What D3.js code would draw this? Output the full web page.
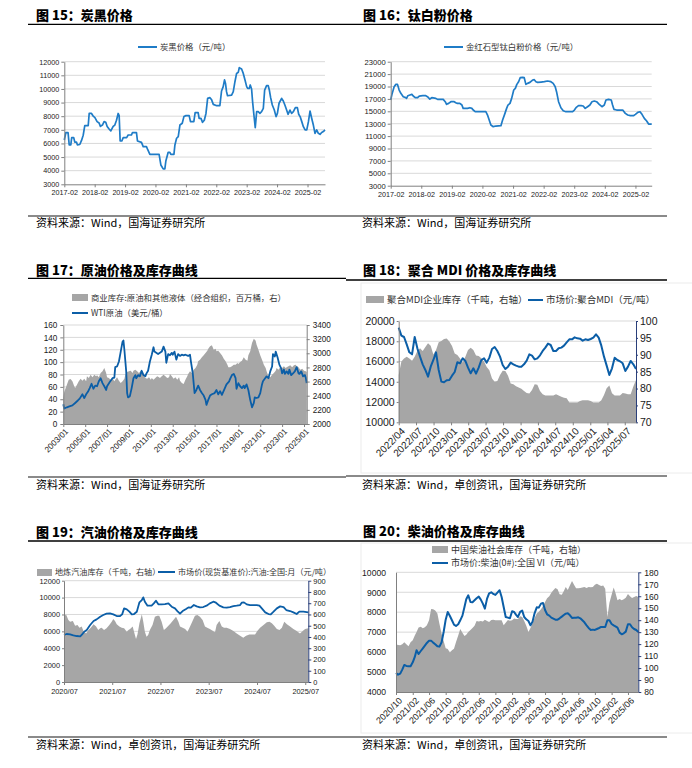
<!DOCTYPE html>
<html><head><meta charset="utf-8">
<script src="https://cdn.jsdelivr.net/npm/d3@7"></script>
<style>body{margin:0;background:#fff;}svg{display:block;}</style>
</head><body>
<script>
// ---------- Figure 15: carbon black price ----------
const carbonDates=["2017-02-01","2017-02-20","2017-03-18","2017-04-01","2017-04-20","2017-05-01","2017-05-25","2017-06-07","2017-06-27","2017-07-08","2017-08-06","2017-08-26","2017-09-16","2017-10-05","2017-11-15","2017-11-27","2017-12-25","2018-01-15","2018-02-04","2018-03-02","2018-03-26","2018-04-11","2018-05-05","2018-05-25","2018-06-14","2018-07-01","2018-07-24","2018-08-14","2018-09-11","2018-10-01","2018-10-21","2018-11-10","2018-11-22","2018-12-04","2018-12-24","2019-01-10","2019-02-20","2019-03-10","2019-04-19","2019-05-01","2019-06-18","2019-06-30","2019-08-17","2019-09-07","2019-10-16","2019-11-02","2019-11-26","2020-03-16","2020-04-06","2020-05-04","2020-05-24","2020-06-05","2020-07-03","2020-07-23","2020-08-04","2020-09-10","2020-09-22","2020-10-12","2020-11-01","2020-11-21","2020-12-19","2021-01-08","2021-02-02","2021-03-12","2021-03-28","2021-05-07","2021-05-23","2021-06-28","2021-07-10","2021-08-01","2021-08-20","2021-09-10","2021-09-30","2021-10-20","2021-11-17","2021-12-07","2021-12-27","2022-02-06","2022-03-16","2022-04-05","2022-04-25","2022-05-11","2022-05-23","2022-06-04","2022-06-16","2022-08-04","2022-08-24","2022-09-13","2022-10-03","2022-10-23","2022-11-04","2022-12-02","2022-12-22","2023-01-12","2023-02-01","2023-02-13","2023-03-04","2023-03-16","2023-04-01","2023-04-13","2023-04-29","2023-05-15","2023-06-01","2023-06-20","2023-07-10","2023-07-30","2023-08-20","2023-09-05","2023-09-28","2023-10-18","2023-11-01","2023-11-16","2023-12-06","2023-12-30","2024-01-20","2024-02-05","2024-02-25","2024-03-27","2024-04-16","2024-05-06","2024-05-26","2024-06-12","2024-07-05","2024-07-25","2024-08-15","2024-09-08","2024-10-02","2024-10-18","2024-11-04","2024-11-24","2024-12-13","2025-01-03","2025-01-23","2025-02-12","2025-03-03","2025-03-23","2025-04-12","2025-05-02","2025-05-22","2025-06-11","2025-07-01","2025-07-21","2025-08-10","2025-08-30"];
const carbonPrice=[6250,6800,6800,5900,5900,6430,6430,6100,6100,5900,5920,6200,6600,7300,7300,8200,8200,8000,7900,7600,7500,7250,7350,7600,7550,7250,7060,6920,7250,7350,7700,8200,8050,6180,6180,6430,6430,6620,6620,6800,6800,6180,6080,5770,5770,5520,5200,5200,4420,4130,4130,4710,5350,5350,5200,5200,5890,6380,6500,7350,7480,7970,8040,8040,7600,7600,8260,8260,7840,7840,7550,7700,8200,9310,9360,9200,8870,8770,8770,9850,10170,10660,10400,9800,9500,9550,9800,10530,11140,11220,11560,11460,11140,10650,10170,10040,10040,10290,10000,9070,8090,7160,8330,8330,8210,8330,8580,9920,10240,10240,9900,9360,8820,8450,7970,8210,8950,9310,9120,8800,8450,8140,8450,8210,8330,8630,8630,8140,7970,7600,7230,6990,6990,7600,8380,7850,7350,6740,6990,6740,6670,6800,6870,6990];
const p15YTicks=[3000,4000,5000,6000,7000,8000,9000,10000,11000,12000];
const p15XTicks=["2017-02-01","2018-02-01","2019-02-01","2020-02-01","2021-02-01","2022-02-01","2023-02-01","2024-02-01","2025-02-01"];
const p15XLabels=["2017-02","2018-02","2019-02","2020-02","2021-02","2022-02","2023-02","2024-02","2025-02"];

// ---------- Figure 16: TiO2 price ----------
const tio2Dates=["2017-02-01","2017-02-16","2017-03-14","2017-04-04","2017-04-23","2017-05-13","2017-06-02","2017-07-01","2017-07-24","2017-08-09","2017-08-25","2017-09-18","2017-10-12","2017-10-28","2017-11-21","2017-12-19","2018-01-08","2018-02-18","2018-03-27","2018-04-16","2018-05-14","2018-06-07","2018-07-25","2018-08-14","2018-09-23","2018-10-21","2018-11-14","2018-11-30","2018-12-24","2019-01-21","2019-03-01","2019-03-20","2019-04-09","2019-05-07","2019-06-01","2019-06-16","2019-07-10","2019-08-07","2019-09-04","2019-09-28","2019-10-14","2019-11-07","2019-12-05","2020-02-04","2020-03-13","2020-04-02","2020-04-22","2020-05-12","2020-06-09","2020-07-10","2020-09-09","2020-09-29","2020-10-23","2020-11-16","2020-12-02","2020-12-26","2021-01-15","2021-02-09","2021-02-28","2021-03-18","2021-04-08","2021-04-27","2021-05-25","2021-06-14","2021-07-04","2021-07-24","2021-08-21","2021-09-22","2021-10-12","2021-11-01","2021-11-21","2022-01-01","2022-02-10","2022-03-19","2022-04-28","2022-05-26","2022-06-19","2022-07-05","2022-07-29","2022-08-26","2022-09-23","2022-10-25","2022-12-04","2023-01-13","2023-02-03","2023-02-22","2023-03-24","2023-04-25","2023-05-19","2023-06-12","2023-07-10","2023-08-07","2023-09-01","2023-09-29","2023-10-26","2023-11-27","2023-12-29","2024-01-26","2024-02-15","2024-03-17","2024-04-18","2024-05-04","2024-05-20","2024-06-21","2024-07-23","2024-09-02","2024-10-03","2024-11-01","2024-12-02","2025-01-08","2025-02-01","2025-03-01","2025-03-27","2025-04-20","2025-05-18","2025-06-15","2025-07-08","2025-08-14"];
const tio2Price=[16818,17732,18968,19344,19344,18430,17893,17355,17248,17086,17516,17624,17732,17463,17194,17194,17463,17516,17516,17355,16979,17194,17086,16925,16925,16925,16549,16119,16280,16549,16549,16388,16280,16280,16011,15474,15474,15474,15581,15474,15205,14936,14936,14936,14936,14398,13592,12786,12517,12624,12678,13592,14506,15474,16011,16280,17086,18430,18699,19344,19774,20420,20473,20420,19344,19506,19667,20043,20097,19774,19667,19721,19774,19882,19774,19506,18968,18162,16549,15581,15097,14936,14936,14936,15205,15581,15904,15904,15850,15474,15742,16011,16549,16656,16549,16119,15742,16011,16818,16925,16818,16011,15312,15205,15205,15205,14667,14398,14291,14291,14506,14829,14936,14506,13861,13431,12947,12947];
const p16YTicks=[3000,5000,7000,9000,11000,13000,15000,17000,19000,21000,23000];
const p16XTicks=p15XTicks, p16XLabels=p15XLabels;

// ---------- Figure 17: crude oil ----------
const oilStockDates=["2003-01","2003-02","2003-05","2003-07","2003-09","2003-11","2004-01","2004-02","2004-04","2004-06","2004-08","2004-10","2004-12","2005-02","2005-03","2005-05","2005-07","2005-09","2005-11","2006-01","2006-02","2006-04","2006-06","2006-08","2006-10","2006-12","2007-01","2007-03","2007-05","2007-07","2007-09","2007-10","2007-12","2008-02","2008-04","2008-06","2008-08","2008-09","2008-11","2009-01","2009-03","2009-05","2009-06","2009-08","2009-10","2009-12","2010-02","2010-03","2010-05","2010-07","2010-09","2010-11","2011-01","2011-02","2011-04","2011-06","2011-08","2011-10","2011-11","2012-01","2012-03","2012-05","2012-07","2012-09","2012-10","2012-12","2013-02","2013-04","2013-06","2013-08","2013-09","2013-11","2014-01","2014-03","2014-05","2014-06","2014-08","2014-10","2014-12","2015-02","2015-04","2015-05","2015-07","2015-09","2015-11","2016-01","2016-03","2016-04","2016-06","2016-08","2016-10","2016-12","2017-01","2017-03","2017-05","2017-07","2017-09","2017-11","2018-01","2018-02","2018-04","2018-06","2018-08","2018-10","2018-12","2019-01","2019-03","2019-05","2019-07","2019-09","2019-11","2019-12","2020-02","2020-04","2020-06","2020-08","2020-09","2020-11","2021-01","2021-03","2021-05","2021-07","2021-08","2021-10","2021-12","2022-02","2022-04","2022-06","2022-07","2022-09","2022-11","2023-01","2023-03","2023-05","2023-06","2023-08","2023-10","2023-12","2024-02","2024-04","2024-05","2024-07","2024-09","2024-11","2025-01","2025-03","2025-04"];
const oilStock=[2368,2453,2556,2627,2636,2603,2533,2509,2556,2603,2641,2613,2641,2603,2674,2651,2698,2660,2698,2674,2688,2660,2721,2745,2792,2721,2660,2651,2627,2651,2603,2627,2660,2613,2580,2603,2641,2698,2735,2745,2754,2721,2754,2768,2745,2721,2754,2768,2698,2651,2641,2660,2627,2651,2627,2651,2674,2660,2651,2674,2698,2674,2651,2660,2707,2674,2641,2660,2627,2660,2613,2580,2566,2627,2674,2707,2745,2721,2768,2792,2839,2886,2910,2943,2971,3004,3037,3065,3098,3113,3051,3065,3028,3037,3004,2971,2924,2886,2839,2801,2801,2816,2839,2839,2863,2849,2877,2896,2943,2910,2896,2971,3028,3146,3207,3179,3122,3051,2971,2910,2839,2792,2745,2674,2660,2698,2721,2754,2792,2768,2801,2792,2816,2792,2801,2816,2830,2801,2830,2839,2816,2801,2768,2782,2754,2745,2735];
const wtiDates=["2003-01","2003-02","2003-05","2003-07","2003-11","2004-02","2004-05","2004-07","2004-10","2004-12","2005-02","2005-04","2005-06","2005-08","2005-10","2005-12","2006-02","2006-04","2006-06","2006-08","2006-10","2006-12","2007-01","2007-04","2007-07","2007-09","2007-10","2007-12","2008-02","2008-04","2008-06","2008-07","2008-08","2008-10","2008-11","2008-12","2009-02","2009-04","2009-06","2009-08","2009-09","2009-11","2010-01","2010-03","2010-05","2010-07","2010-08","2010-10","2010-12","2011-02","2011-04","2011-05","2011-07","2011-09","2011-11","2012-01","2012-03","2012-05","2012-06","2012-08","2012-10","2012-12","2013-01","2013-03","2013-05","2013-07","2013-09","2013-11","2014-01","2014-03","2014-06","2014-08","2014-09","2014-11","2014-12","2015-01","2015-03","2015-05","2015-07","2015-09","2015-11","2016-01","2016-02","2016-04","2016-06","2016-08","2016-11","2017-01","2017-03","2017-05","2017-07","2017-10","2017-12","2018-03","2018-04","2018-06","2018-08","2018-10","2018-11","2019-01","2019-03","2019-05","2019-07","2019-08","2019-10","2019-12","2020-02","2020-04","2020-06","2020-07","2020-09","2020-11","2021-01","2021-03","2021-04","2021-06","2021-08","2021-10","2021-12","2022-02","2022-03","2022-05","2022-06","2022-08","2022-10","2022-12","2023-01","2023-03","2023-04","2023-06","2023-08","2023-09","2023-11","2024-01","2024-03","2024-05","2024-07","2024-08","2024-10","2024-12","2025-02","2025-03","2025-04"];
const wtiPrice=[32,25,27,28,30,34,38,41,48,42,48,52,58,65,57,62,61,69,74,66,61,55,61,68,74,75,92,93,101,117,133,135,120,85,50,43,45,58,74,79,74,79,77,86,79,77,81,86,101,112,124,117,115,113,115,117,125,117,99,113,111,115,112,117,104,113,110,112,111,112,110,112,101,82,66,50,55,62,55,50,46,39,31,39,46,48,50,55,48,53,47,57,64,69,73,79,81,74,57,66,61,58,62,58,64,55,39,27,34,43,42,43,50,64,69,73,77,74,85,93,113,109,117,108,96,90,82,88,81,85,81,88,79,82,85,92,82,81,85,77,79,75,66];
const p17YTicksL=[0,20,40,60,80,100,120,140,160];
const p17YTicksR=[2000,2200,2400,2600,2800,3000,3200,3400];
const p17XTicks=["2003-01","2005-01","2007-01","2009-01","2011-01","2013-01","2015-01","2017-01","2019-01","2021-01","2023-01","2025-01"];
const p17XLabels=["2003/01","2005/01","2007/01","2009/01","2011/01","2013/01","2015/01","2017/01","2019/01","2021/01","2023/01","2025/01"];

// ---------- Figure 18: polymeric MDI ----------
const mdiDates=["2022-04-01","2022-04-15","2022-04-29","2022-05-13","2022-05-27","2022-06-10","2022-06-24","2022-07-08","2022-07-22","2022-08-05","2022-08-19","2022-09-02","2022-09-16","2022-09-30","2022-10-14","2022-10-28","2022-11-11","2022-11-25","2022-12-09","2022-12-23","2023-01-06","2023-01-20","2023-02-03","2023-02-17","2023-03-03","2023-03-17","2023-03-31","2023-04-14","2023-04-28","2023-05-12","2023-05-26","2023-06-09","2023-06-23","2023-07-07","2023-07-21","2023-08-04","2023-08-18","2023-09-01","2023-09-15","2023-09-29","2023-10-13","2023-10-27","2023-11-10","2023-11-24","2023-12-08","2023-12-22","2024-01-05","2024-01-19","2024-02-02","2024-02-16","2024-03-01","2024-03-15","2024-03-29","2024-04-12","2024-04-26","2024-05-10","2024-05-24","2024-06-07","2024-06-21","2024-07-05","2024-07-19","2024-08-02","2024-08-16","2024-08-30","2024-09-13","2024-09-27","2024-10-11","2024-10-25","2024-11-08","2024-11-22","2024-12-06","2024-12-20","2025-01-03","2025-01-17","2025-01-31","2025-02-14","2025-02-28","2025-03-14","2025-03-28","2025-04-11","2025-04-25","2025-05-09","2025-05-23","2025-06-06","2025-06-20","2025-07-04","2025-07-18","2025-08-01","2025-08-15","2025-08-29"];
const mdiPrice=[19342,18553,18420,17697,16908,16711,18420,17303,16480,15724,15165,14507,15494,16151,16908,15165,14013,13947,14145,14178,14605,14967,15922,15823,16316,16053,15395,14836,15329,14803,15395,16151,16316,15889,16382,17237,17434,17040,16480,15658,15263,15494,15889,15724,15592,15494,15494,15724,16086,16711,16579,16217,16316,16612,17040,17369,17764,17632,17040,17040,17303,17369,17566,17895,18191,18191,18388,18290,18257,18059,18191,18125,18224,18355,18684,18355,17566,16480,15592,14671,15329,16382,16151,16020,15823,15066,15494,16053,15724,15263];
const mdiStock=[84.0,88.0,88.9,89.4,88.9,88.2,89.4,91.1,91.9,91.1,92.3,93.4,92.7,90.1,91.4,93.7,94.1,94.7,94.8,93.9,92.6,90.4,89.9,88.9,87.7,89.4,91.4,92.1,91.4,89.8,89.6,89.0,88.0,86.4,85.4,83.0,82.0,82.2,84.0,85.3,85.2,83.8,81.5,81.3,80.7,80.3,79.9,79.3,78.7,78.5,79.6,81.3,81.1,79.3,78.3,77.9,77.9,77.9,77.9,78.3,77.9,77.6,77.3,77.1,75.9,75.9,75.9,75.9,76.3,76.5,76.5,76.5,76.3,75.9,75.9,75.9,76.5,78.1,80.1,80.9,78.6,77.9,77.9,77.9,78.7,78.5,78.3,78.3,80.6,82.5];
const p18YTicksL=[10000,12000,14000,16000,18000,20000];
const p18YTicksR=[70,75,80,85,90,95,100];
const p18XTicks=["2022-04-01","2022-07-01","2022-10-01","2023-01-01","2023-04-01","2023-07-01","2023-10-01","2024-01-01","2024-04-01","2024-07-01","2024-10-01","2025-01-01","2025-04-01","2025-07-01"];
const p18XLabels=["2022/04","2022/07","2022/10","2023/01","2023/04","2023/07","2023/10","2024/01","2024/04","2024/07","2024/10","2025/01","2025/04","2025/07"];

// ---------- Figure 19: gasoline ----------
const gasPriceDates=["2020-07-01","2020-07-21","2020-08-16","2020-09-10","2020-10-05","2020-11-01","2020-11-15","2020-12-01","2020-12-20","2021-01-15","2021-02-10","2021-03-05","2021-04-01","2021-04-24","2021-05-19","2021-06-14","2021-07-09","2021-08-04","2021-08-29","2021-09-14","2021-09-29","2021-10-19","2021-11-08","2021-11-26","2021-12-13","2022-01-03","2022-01-23","2022-02-10","2022-02-21","2022-03-05","2022-03-25","2022-04-25","2022-05-12","2022-05-28","2022-06-15","2022-07-10","2022-08-04","2022-08-30","2022-09-24","2022-10-19","2022-11-06","2022-11-26","2022-12-16","2023-01-11","2023-01-29","2023-02-16","2023-03-11","2023-04-01","2023-04-26","2023-05-21","2023-06-15","2023-07-10","2023-08-05","2023-08-25","2023-09-20","2023-10-20","2023-11-14","2023-12-09","2024-01-04","2024-01-29","2024-02-24","2024-03-07","2024-03-24","2024-04-14","2024-05-09","2024-06-04","2024-06-29","2024-07-19","2024-08-06","2024-09-01","2024-09-26","2024-10-13","2024-11-03","2024-11-28","2024-12-23","2025-01-18","2025-02-07","2025-03-08","2025-04-02","2025-04-27","2025-05-17","2025-06-17","2025-07-24"];
const gasPrice=[5565,5684,5644,5526,5447,5407,5644,5960,6157,6749,7223,7420,7736,7933,8091,8131,8012,7815,7815,8012,8723,8604,8328,8012,8052,8328,9433,9710,10025,9512,9039,9039,9315,9631,9197,9197,9236,9315,8920,8723,8407,8091,8407,8644,8841,8802,9118,8960,8841,8881,9039,9315,9512,9394,9039,8841,8802,8881,8999,9039,9118,9394,9433,9197,9118,9118,9118,9039,8723,8249,8052,8012,8328,8723,8960,8881,8526,8407,8249,8052,8328,8328,8249];
const gasStockDates=["2020-07-01","2020-07-16","2020-08-03","2020-08-16","2020-09-06","2020-09-23","2020-10-11","2020-10-26","2020-11-12","2020-11-25","2020-12-15","2021-01-02","2021-01-20","2021-02-10","2021-03-01","2021-03-17","2021-04-01","2021-04-12","2021-04-30","2021-05-19","2021-06-09","2021-06-27","2021-07-09","2021-07-22","2021-08-04","2021-08-24","2021-09-11","2021-09-29","2021-10-19","2021-11-01","2021-11-13","2021-12-03","2021-12-13","2021-12-28","2022-01-08","2022-01-23","2022-02-10","2022-02-21","2022-03-05","2022-03-18","2022-03-30","2022-04-12","2022-05-02","2022-05-20","2022-06-07","2022-06-22","2022-07-10","2022-07-27","2022-08-12","2022-08-30","2022-09-17","2022-10-07","2022-10-27","2022-11-14","2022-11-26","2022-12-16","2023-01-04","2023-01-22","2023-02-10","2023-03-01","2023-03-19","2023-04-06","2023-04-26","2023-05-16","2023-06-03","2023-06-20","2023-07-10","2023-07-31","2023-08-18","2023-08-30","2023-09-20","2023-10-08","2023-10-25","2023-11-14","2023-12-09","2024-01-04","2024-01-29","2024-02-24","2024-03-19","2024-04-09","2024-05-04","2024-05-29","2024-06-16","2024-07-03","2024-07-24","2024-08-19","2024-09-13","2024-10-03","2024-10-21","2024-11-08","2024-11-28","2024-12-18","2025-01-05","2025-01-23","2025-02-12","2025-03-08","2025-04-02","2025-04-27","2025-05-22","2025-06-12","2025-06-30","2025-07-24"];
const gasStock=[580,601,551,536,542,500,506,483,492,453,432,462,483,512,492,462,477,483,462,477,506,536,560,542,512,492,483,477,447,462,471,492,447,382,423,521,601,536,447,403,418,462,506,580,589,589,536,462,477,500,521,551,580,536,492,483,471,447,492,542,589,595,580,551,492,483,471,456,441,506,542,492,483,483,471,453,432,412,394,412,423,423,423,453,483,506,530,536,521,500,471,462,483,536,512,492,471,453,432,453,471,477];
const p19YTicksL=[0,2000,4000,6000,8000,10000,12000];
const p19YTicksR=[0,100,200,300,400,500,600,700,800,900];
const p19XTicks=["2020-07-01","2021-07-01","2022-07-01","2023-07-01","2024-07-01","2025-07-01"];
const p19XLabels=["2020/07","2021/07","2022/07","2023/07","2024/07","2025/07"];

// ---------- Figure 20: diesel ----------
const dieselDates=["2020-10-01","2020-10-16","2020-11-01","2020-11-16","2020-12-01","2020-12-16",
"2021-01-01","2021-01-16","2021-02-01","2021-02-16","2021-03-01","2021-03-16","2021-04-01","2021-04-16","2021-05-01","2021-05-16","2021-06-01","2021-06-16","2021-07-01","2021-07-16","2021-08-01","2021-08-16","2021-09-01","2021-09-16","2021-10-01","2021-10-16","2021-11-01","2021-11-16","2021-12-01","2021-12-16",
"2022-01-01","2022-01-16","2022-02-01","2022-02-16","2022-03-01","2022-03-16","2022-04-01","2022-04-16","2022-05-01","2022-05-16","2022-06-01","2022-06-16","2022-07-01","2022-07-16","2022-08-01","2022-08-16","2022-09-01","2022-09-16","2022-10-01","2022-10-16","2022-11-01","2022-11-16","2022-12-01","2022-12-16",
"2023-01-01","2023-01-16","2023-02-01","2023-02-16","2023-03-01","2023-03-16","2023-04-01","2023-04-16","2023-05-01","2023-05-16","2023-06-01","2023-06-16","2023-07-01","2023-07-16","2023-08-01","2023-08-16","2023-09-01","2023-09-16","2023-10-01","2023-10-16","2023-11-01","2023-11-16","2023-12-01","2023-12-16",
"2024-01-01","2024-01-16","2024-02-01","2024-02-16","2024-03-01","2024-03-16","2024-04-01","2024-04-16","2024-05-01","2024-05-16","2024-06-01","2024-06-16","2024-07-01","2024-07-16","2024-08-01","2024-08-16","2024-09-01","2024-09-16","2024-10-01","2024-10-16","2024-11-01","2024-11-16","2024-12-01","2024-12-16",
"2025-01-01","2025-01-16","2025-02-01","2025-02-16","2025-03-01","2025-03-16","2025-04-01","2025-04-16","2025-05-01","2025-05-16","2025-06-01","2025-06-16","2025-07-01","2025-07-16","2025-08-01","2025-08-16"];
const dieselPrice=[4954,4870,4920,5121,5355,5305,5288,5288,5488,5756,6090,5906,6056,6190,6324,6457,6574,6574,6474,6391,6290,6274,6491,7009,7627,8012,7811,7594,7377,7310,7393,7594,7828,8262,8646,8847,8513,8496,8596,8697,8780,8630,8429,8179,8680,8947,8997,8914,8864,8981,9098,8763,8262,7761,7727,7694,8045,8012,7878,7761,8012,8078,7761,7644,7560,7343,7527,7945,8245,8229,8429,8463,8112,7895,7828,7727,7677,7627,7627,7694,7778,7861,7928,7945,7844,7711,7727,7727,7744,7694,7594,7494,7343,7209,7109,7126,7109,7159,7209,7260,7260,7260,7594,7594,7410,7343,7293,7226,6975,6892,6942,7026,7393,7393,7243,7159,7109,7009];
const dieselStock=[119.8,119.3,119.0,119.8,121.5,119.8,118.2,121.5,123.2,127.3,130.1,133.8,134.6,133.2,134.0,135.7,139.9,149.4,149.1,148.0,145.5,137.1,128.7,122.6,116.5,115.9,113.1,114.8,116.2,121.8,127.3,132.6,129.6,126.8,127.9,130.1,131.8,133.5,135.4,139.3,138.8,139.3,139.0,140.4,139.3,138.5,140.2,140.4,139.9,139.9,139.9,139.9,135.7,137.9,140.2,139.6,139.9,141.3,141.0,141.0,143.2,142.7,139.3,135.4,130.1,133.5,137.7,141.8,145.5,147.1,149.1,151.9,155.2,158.3,159.9,163.0,165.0,166.9,165.8,161.6,161.3,164.4,167.7,165.2,169.1,172.8,169.7,166.6,166.6,166.9,167.2,167.7,166.9,167.7,167.5,167.7,169.7,170.5,169.4,168.6,168.9,166.3,142.7,154.6,161.3,167.2,163.0,156.6,157.7,156.6,157.4,158.8,161.9,159.9,158.5,159.4,160.2,159.4];
const p20YTicksL=[4000,5000,6000,7000,8000,9000,10000];
const p20YTicksR=[80,90,100,110,120,130,140,150,160,170,180];
const p20XTicks=["2020-10-01","2021-02-01","2021-06-01","2021-10-01","2022-02-01","2022-06-01","2022-10-01","2023-02-01","2023-06-01","2023-10-01","2024-02-01","2024-06-01","2024-10-01","2025-02-01","2025-06-01"];
const p20XLabels=["2020/10","2021/02","2021/06","2021/10","2022/02","2022/06","2022/10","2023/02","2023/06","2023/10","2024/02","2024/06","2024/10","2025/02","2025/06"];

// ---------- rendering ----------
const CJK='"Noto Sans CJK SC","Noto Sans",sans-serif';
const NUM='"Liberation Sans",Arial,sans-serif';
const BLUE1="#1f7cc7", BLUE2="#0b5ea7", GREY="#a6a6a6", GRID="#d9d9d9", AX="#808080", NAVY="#2a3f7a";
const pD=d3.timeParse("%Y-%m-%d"), pM=d3.timeParse("%Y-%m");
const fmt=d3.format("d");
const svg=d3.select("body").append("svg").attr("width",692).attr("height",768);

function header(x1,x2,tx,ty,uy,title){
  svg.append("text").attr("x",tx).attr("y",ty).attr("font-family",CJK).attr("font-weight",900)
    .attr("font-size",13).attr("fill","#000").text(title);
  svg.append("line").attr("x1",x1).attr("x2",x2).attr("y1",uy).attr("y2",uy)
    .attr("stroke","#000").attr("stroke-width",1.3);
}
function source(x1,x2,ly,tx,ty,txt){
  svg.append("line").attr("x1",x1).attr("x2",x2).attr("y1",ly).attr("y2",ly)
    .attr("stroke","#8a8a8a").attr("stroke-width",2);
  svg.append("text").attr("x",tx).attr("y",ty).attr("font-family",CJK).attr("font-size",11)
    .attr("fill","#000").text(txt);
}
function grid(ticks,y,L,R){
  svg.append("g").selectAll("line").data(ticks).join("line")
    .attr("x1",L).attr("x2",R).attr("y1",d=>y(d)).attr("y2",d=>y(d))
    .attr("stroke",GRID).attr("stroke-width",1);
}
function styleAxis(g,color,fs){
  g.attr("font-family",NUM).attr("font-size",fs);
  g.select(".domain").attr("stroke",color).attr("stroke-width",1);
  g.selectAll(".tick line").attr("stroke",color);
  g.selectAll(".tick text").attr("fill","#1a1a1a");
}
function rotLabels(g,dx,dy){
  g.selectAll(".tick text").attr("x",0).attr("y",0).attr("dy","0.35em")
    .attr("text-anchor","end").attr("transform",`translate(${dx},${dy}) rotate(-45)`);
}
function legendRect(x,y,w,h,txt,fs){
  svg.append("rect").attr("x",x).attr("y",y).attr("width",w).attr("height",h).attr("fill",GREY);
  svg.append("text").attr("x",x+w+3).attr("y",y+h/2).attr("dy","0.36em").attr("font-family",CJK)
    .attr("font-size",fs).attr("fill","#333").text(txt);
}
function legendLine(x,y,w,color,txt,fs){
  svg.append("line").attr("x1",x).attr("x2",x+w).attr("y1",y).attr("y2",y).attr("stroke",color).attr("stroke-width",2);
  svg.append("text").attr("x",x+w+3).attr("y",y).attr("dy","0.36em").attr("font-family",CJK)
    .attr("font-size",fs).attr("fill","#333").text(txt);
}
function pairs(dates,vals,parser){ return dates.map((d,i)=>({d:parser(d),v:vals[i]})); }

// ===== Figure 15 =====
(function(){
  header(28,346,36,19.5,24.3,"图 15：炭黑价格");
  const L=64.3,R=325,T=61.7,B=184.3;
  const data=pairs(carbonDates,carbonPrice,pD);
  const x=d3.scaleTime().domain([pD("2017-02-01"),pD("2025-08-30")]).range([L,R]);
  const y=d3.scaleLinear().domain([3000,12000]).range([B,T]);
  grid(p15YTicks.slice(1),y,L,R);
  svg.append("path").datum(data).attr("fill","none").attr("stroke",BLUE1).attr("stroke-width",1.7)
    .attr("stroke-linejoin","round").attr("d",d3.line().x(d=>x(d.d)).y(d=>y(d.v)));
  const gy=svg.append("g").attr("transform",`translate(${L},0)`)
    .call(d3.axisLeft(y).tickValues(p15YTicks).tickFormat(fmt).tickSize(3).tickSizeOuter(0).tickPadding(2));
  styleAxis(gy,AX,7.2);
  const gx=svg.append("g").attr("transform",`translate(0,${B})`)
    .call(d3.axisBottom(x).tickValues(p15XTicks.map(pD)).tickFormat((d,i)=>p15XLabels[i]).tickSize(3).tickSizeOuter(0).tickPadding(3));
  styleAxis(gx,AX,7.2);
  legendLine(138,47,19,BLUE1,"炭黑价格（元/吨）",8.4);
  source(28,346,216,36,227,"资料来源：Wind，国海证券研究所");
})();

// ===== Figure 16 =====
(function(){
  header(346,667,363,19.5,24.3,"图 16：钛白粉价格");
  const L=390.7,R=651.7,T=61.7,B=185.7;
  const data=pairs(tio2Dates,tio2Price,pD);
  const x=d3.scaleTime().domain([pD("2017-02-01"),pD("2025-08-14")]).range([L,R]);
  const y=d3.scaleLinear().domain([3000,23000]).range([B,T]);
  grid(p16YTicks.slice(1),y,L,R);
  svg.append("path").datum(data).attr("fill","none").attr("stroke",BLUE1).attr("stroke-width",1.7)
    .attr("stroke-linejoin","round").attr("d",d3.line().x(d=>x(d.d)).y(d=>y(d.v)));
  const gy=svg.append("g").attr("transform",`translate(${L},0)`)
    .call(d3.axisLeft(y).tickValues(p16YTicks).tickFormat(fmt).tickSize(3).tickSizeOuter(0).tickPadding(2));
  styleAxis(gy,AX,7.6);
  const gx=svg.append("g").attr("transform",`translate(0,${B})`)
    .call(d3.axisBottom(x).tickValues(p16XTicks.map(pD)).tickFormat((d,i)=>p16XLabels[i]).tickSize(3).tickSizeOuter(0).tickPadding(3));
  styleAxis(gx,AX,7.2);
  legendLine(444,47,19,BLUE1,"金红石型钛白粉价格（元/吨）",8.4);
  source(346,667,216,362,227,"资料来源：Wind，国海证券研究所");
})();

// ===== Figure 17 =====
(function(){
  header(28,346,36,275,278.3,"图 17：原油价格及库存曲线");
  const L=63.3,R=306.7,T=325,B=424;
  const stock=pairs(oilStockDates,oilStock,pM), wti=pairs(wtiDates,wtiPrice,pM);
  const x=d3.scaleTime().domain([pM("2003-01"),pM("2025-04")]).range([L,R]);
  const yL=d3.scaleLinear().domain([0,160]).range([B,T]);
  const yR=d3.scaleLinear().domain([2000,3400]).range([B,T]);
  grid(p17YTicksL.slice(1),yL,L,R);
  svg.append("path").datum(stock).attr("fill",GREY)
    .attr("d",d3.area().x(d=>x(d.d)).y0(B).y1(d=>yR(d.v)));
  svg.append("path").datum(wti).attr("fill","none").attr("stroke",BLUE2).attr("stroke-width",1.8)
    .attr("stroke-linejoin","round").attr("d",d3.line().x(d=>x(d.d)).y(d=>yL(d.v)));
  const gy=svg.append("g").attr("transform",`translate(${L},0)`)
    .call(d3.axisLeft(yL).tickValues(p17YTicksL).tickFormat(fmt).tickSize(3).tickSizeOuter(0).tickPadding(3));
  styleAxis(gy,AX,8.2);
  const gr=svg.append("g").attr("transform",`translate(${R},0)`)
    .call(d3.axisRight(yR).tickValues(p17YTicksR).tickFormat(fmt).tickSize(3).tickSizeOuter(0).tickPadding(3));
  styleAxis(gr,AX,8.2);
  const gx=svg.append("g").attr("transform",`translate(0,${B})`)
    .call(d3.axisBottom(x).tickValues(p17XTicks.map(pM)).tickFormat((d,i)=>p17XLabels[i]).tickSize(3).tickSizeOuter(0));
  styleAxis(gx,AX,8.2); rotLabels(gx,3,6);
  legendRect(72,294,16,7,"商业库存:原油和其他液体（经合组织，百万桶，右）",8.4);
  legendLine(72,313,16,BLUE2,"WTI原油（美元/桶）",8.4);
  source(28,346,477,36,489,"资料来源：Wind，国海证券研究所");
})();

// ===== Figure 18 =====
(function(){
  header(346,667,363,274.5,280,"图 18：聚合 MDI 价格及库存曲线");
  svg.append("rect").attr("x",361).attr("y",283).attr("width",340).attr("height",190)
    .attr("fill","none").attr("stroke","#ececec");
  const L=398.7,R=636,T=321,B=422.3;
  const price=pairs(mdiDates,mdiPrice,pD), stock=pairs(mdiDates,mdiStock,pD);
  const x=d3.scaleTime().domain([pD("2022-04-01"),pD("2025-08-29")]).range([L,R]);
  const yL=d3.scaleLinear().domain([10000,20000]).range([B,T]);
  const yR=d3.scaleLinear().domain([70,100]).range([B,T]);
  grid(p18YTicksL.slice(1),yL,L,R);
  svg.append("path").datum(stock).attr("fill",GREY)
    .attr("d",d3.area().x(d=>x(d.d)).y0(B).y1(d=>yR(d.v)));
  svg.append("path").datum(price).attr("fill","none").attr("stroke",BLUE2).attr("stroke-width",2)
    .attr("stroke-linejoin","round").attr("d",d3.line().x(d=>x(d.d)).y(d=>yL(d.v)));
  const gy=svg.append("g").attr("transform",`translate(${L},0)`)
    .call(d3.axisLeft(yL).tickValues(p18YTicksL).tickFormat(fmt).tickSize(2).tickSizeOuter(0).tickPadding(2));
  styleAxis(gy,AX,10.5);
  const gr=svg.append("g").attr("transform",`translate(${R},0)`)
    .call(d3.axisRight(yR).tickValues(p18YTicksR).tickFormat(fmt).tickSize(2).tickSizeOuter(0).tickPadding(2));
  styleAxis(gr,NAVY,10.5);
  const gx=svg.append("g").attr("transform",`translate(0,${B})`)
    .call(d3.axisBottom(x).tickValues(p18XTicks.map(pD)).tickFormat((d,i)=>p18XLabels[i]).tickSize(3).tickSizeOuter(0));
  styleAxis(gx,AX,10); rotLabels(gx,4,7);
  legendRect(366,296,18,7,"聚合MDI企业库存（千吨，右轴）",9.5);
  legendLine(528,300,15,BLUE2,"市场价:聚合MDI（元/吨）",9.5);
  source(346,667,476,362,489,"资料来源：Wind，卓创资讯，国海证券研究所");
})();

// ===== Figure 19 =====
(function(){
  header(28,346,36,537,541,"图 19：汽油价格及库存曲线");
  const L=64,R=308.3,T=580.7,B=682;
  const price=pairs(gasPriceDates,gasPrice,pD), stock=pairs(gasStockDates,gasStock,pD);
  const x=d3.scaleTime().domain([pD("2020-07-01"),pD("2025-07-24")]).range([L,R]);
  const yL=d3.scaleLinear().domain([0,12000]).range([B,T]);
  const yR=d3.scaleLinear().domain([0,900]).range([B,T]);
  grid(p19YTicksL.slice(1),yL,L,R);
  svg.append("path").datum(stock).attr("fill",GREY)
    .attr("d",d3.area().x(d=>x(d.d)).y0(B).y1(d=>yR(d.v)));
  svg.append("path").datum(price).attr("fill","none").attr("stroke",BLUE2).attr("stroke-width",1.8)
    .attr("stroke-linejoin","round").attr("d",d3.line().x(d=>x(d.d)).y(d=>yL(d.v)));
  const gy=svg.append("g").attr("transform",`translate(${L},0)`)
    .call(d3.axisLeft(yL).tickValues(p19YTicksL).tickFormat(fmt).tickSize(2).tickSizeOuter(0).tickPadding(2));
  styleAxis(gy,AX,7.4);
  const gr=svg.append("g").attr("transform",`translate(${R},0)`)
    .call(d3.axisRight(yR).tickValues(p19YTicksR).tickFormat(fmt).tickSize(3).tickSizeOuter(0).tickPadding(2));
  styleAxis(gr,NAVY,7.4);
  const gx=svg.append("g").attr("transform",`translate(0,${B})`)
    .call(d3.axisBottom(x).tickValues(p19XTicks.map(pD)).tickFormat((d,i)=>p19XLabels[i]).tickSize(3).tickSizeOuter(0).tickPadding(4));
  styleAxis(gx,AX,7.4);
  legendRect(37,569,15,7,"地炼汽油库存（千吨，右轴）",8.1);
  legendLine(158,572,17,BLUE2,"市场价(现货基准价):汽油:全国:月（元/吨）",8.1);
  source(28,346,737,36,749,"资料来源：Wind，卓创资讯，国海证券研究所");
})();

// ===== Figure 20 =====
(function(){
  header(346,667,363,536,541,"图 20：柴油价格及库存曲线");
  svg.append("rect").attr("x",361).attr("y",543).attr("width",340).attr("height",190)
    .attr("fill","none").attr("stroke","#ececec");
  const L=396,R=638.3,T=572.3,B=692;
  const price=pairs(dieselDates,dieselPrice,pD), stock=pairs(dieselDates,dieselStock,pD);
  const x=d3.scaleTime().domain([pD("2020-10-01"),pD("2025-08-16")]).range([L,R]);
  const yL=d3.scaleLinear().domain([4000,10000]).range([B,T]);
  const yR=d3.scaleLinear().domain([80,180]).range([B,T]);
  grid(p20YTicksL.slice(1),yL,L,R);
  svg.append("path").datum(stock).attr("fill",GREY)
    .attr("d",d3.area().x(d=>x(d.d)).y0(B).y1(d=>yR(d.v)));
  svg.append("path").datum(price).attr("fill","none").attr("stroke",BLUE2).attr("stroke-width",2)
    .attr("stroke-linejoin","round").attr("d",d3.line().x(d=>x(d.d)).y(d=>yL(d.v)));
  const gy=svg.append("g").attr("transform",`translate(${L},0)`)
    .call(d3.axisLeft(yL).tickValues(p20YTicksL).tickFormat(fmt).tickSize(0).tickSizeOuter(0).tickPadding(10));
  styleAxis(gy,AX,8.6);
  const gr=svg.append("g").attr("transform",`translate(${R},0)`)
    .call(d3.axisRight(yR).tickValues(p20YTicksR).tickFormat(fmt).tickSize(3).tickSizeOuter(0).tickPadding(3));
  styleAxis(gr,NAVY,8.6);
  const gx=svg.append("g").attr("transform",`translate(0,${B})`)
    .call(d3.axisBottom(x).tickValues(p20XTicks.map(pD)).tickFormat((d,i)=>p20XLabels[i]).tickSize(3).tickSizeOuter(0));
  styleAxis(gx,AX,9); rotLabels(gx,4,7);
  legendRect(432,546,16,7,"中国柴油社会库存（千吨，右轴）",9);
  legendLine(432,563,16,BLUE2,"市场价:柴油(0#):全国 VI（元/吨）",9);
  source(346,667,737,362,749,"资料来源：Wind，卓创资讯，国海证券研究所");
})();
</script>
</body></html>
